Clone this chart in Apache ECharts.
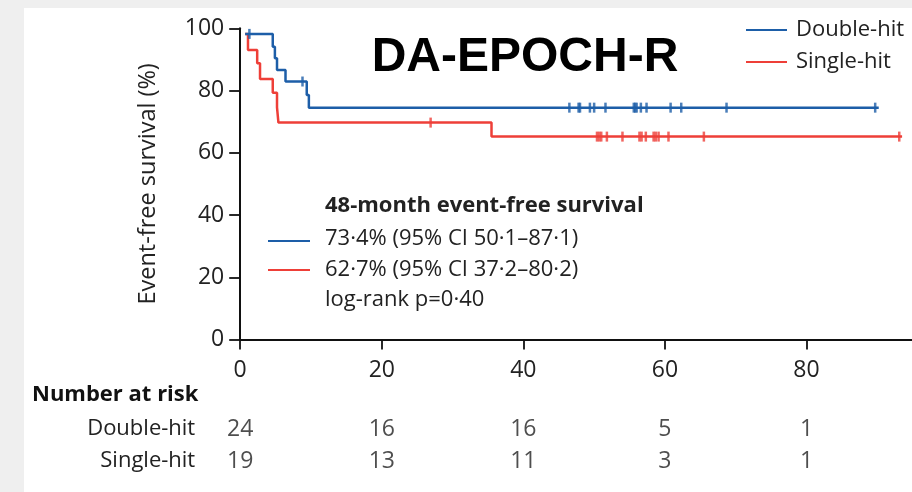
<!DOCTYPE html>
<html>
<head>
<meta charset="utf-8">
<script src="https://cdn.jsdelivr.net/npm/echarts@6/dist/echarts.min.js"></script>
<style>
html,body{margin:0;padding:0;background:#efefef;}
#c{width:912px;height:492px;}
</style>
</head>
<body>
<div id="c"></div>
<script>
// ---- data ----
const groups = ['Double-hit', 'Single-hit'];
const blueTimes = [0.7, 4.6, 4.9, 5.2, 6.4, 9.4, 9.7, 90.2];
const blueSurv  = [98.2, 94.1, 90.4, 86.6, 82.9, 78.6, 74.5, 74.5];
const redTimes  = [0.7, 1.1, 2.4, 2.8, 4.6, 5.2, 5.4, 35.5, 93.5];
const redSurv   = [98.2, 93.0, 88.8, 83.7, 79.3, 74.6, 69.7, 65.2, 65.2];
const blueCensor = [1.3, 8.8, 46.5, 47.8, 48.0, 49.4, 50.0, 51.6, 55.6, 55.8, 56.0, 56.6, 57.4, 60.8, 62.3, 68.7, 89.7];
const redCensor  = [26.9, 50.4, 50.7, 51.0, 51.8, 54.0, 56.4, 56.7, 57.3, 58.4, 58.7, 59.1, 60.5, 65.5, 93.1];
const xTicks = [0, 20, 40, 60, 80];
const riskTimes = [0, 20, 40, 60, 80];
const riskDouble = [24, 16, 16, 5, 1];
const riskSingle = [19, 13, 11, 3, 1];
const summaryTitle = '48-month event-free survival';
const summaryLines = ['73·4% (95% CI 50·1–87·1)', '62·7% (95% CI 37·2–80·2)', 'log-rank p=0·40'];

const BLUE = '#1d5ea8', RED = '#ee3f38', TXT = '#222';
const FONT = '"Open Sans", "Noto Sans", sans-serif';

function stepValue(times, surv, t) {
  let v = surv[0];
  for (let i = 0; i < times.length; i++) { if (times[i] <= t) v = surv[i]; }
  return v;
}
const zip = (a, b) => a.map((v, i) => [v, b[i]]);

const chart = echarts.init(document.getElementById('c'));
const XMAX = 94.9;
chart.setOption({
  backgroundColor: '#efefef',
  animation: false,
  textStyle: { fontFamily: FONT },
  grid: [
    { left: 240.2, right: 0, top: 28.3, height: 311.2 },
    { left: 240.2, right: 0, top: 413, height: 64 }
  ],
  xAxis: [
    {
      gridIndex: 0, type: 'value', min: 0, max: XMAX, interval: 20,
      splitLine: { show: false },
      axisLine: { lineStyle: { color: '#111', width: 2 } },
      axisTick: { length: 10, customValues: xTicks, lineStyle: { color: '#111', width: 1.8 } },
      axisLabel: { margin: 19, fontSize: 23, color: TXT, fontFamily: FONT, customValues: xTicks,
        formatter: v => (xTicks.indexOf(v) >= 0 ? String(v) : '') }
    },
    { gridIndex: 1, type: 'value', min: 0, max: XMAX, show: false }
  ],
  yAxis: [
    {
      gridIndex: 0, type: 'value', min: 0, max: 100, interval: 20,
      name: 'Event-free survival (%)', nameLocation: 'middle', nameGap: 80,
      nameTextStyle: { fontSize: 23.5, color: TXT, fontFamily: FONT },
      splitLine: { show: false },
      axisLine: { lineStyle: { color: '#111', width: 2 } },
      axisTick: { length: 11, lineStyle: { color: '#111', width: 1.8 } },
      axisLabel: { margin: 16, fontSize: 23, color: TXT, fontFamily: FONT }
    },
    {
      gridIndex: 1, type: 'category', data: groups, inverse: true,
      axisLine: { show: false }, axisTick: { show: false },
      axisLabel: { margin: 45, fontSize: 22, color: TXT, fontFamily: FONT }
    }
  ],
  legend: {
    orient: 'vertical', left: 741, top: 14, itemGap: 10,
    itemWidth: 41, itemHeight: 2, icon: 'rect',
    data: ['Double-hit', 'Single-hit'],
    textStyle: { fontSize: 22, color: TXT, fontFamily: FONT, padding: [0, 0, 0, 4] }
  },
  series: [
    { name: 'Double-hit', type: 'line', step: 'end', xAxisIndex: 0, yAxisIndex: 0,
      showSymbol: false, color: BLUE, lineStyle: { width: 2.5, color: BLUE },
      data: zip(blueTimes, blueSurv), z: 3 },
    { name: 'Single-hit', type: 'line', step: 'end', xAxisIndex: 0, yAxisIndex: 0,
      showSymbol: false, color: RED, lineStyle: { width: 2.5, color: RED },
      data: zip(redTimes, redSurv), z: 2 },
    { name: 'Double-hit censored', type: 'scatter', xAxisIndex: 0, yAxisIndex: 0,
      symbol: 'rect', symbolSize: [2.5, 10], itemStyle: { color: BLUE }, z: 4,
      data: blueCensor.map(t => [t, stepValue(blueTimes, blueSurv, t)]) },
    { name: 'Single-hit censored', type: 'scatter', xAxisIndex: 0, yAxisIndex: 0,
      symbol: 'rect', symbolSize: [2.5, 10], itemStyle: { color: RED }, z: 4,
      data: redCensor.map(t => [t, stepValue(redTimes, redSurv, t)]) },
    { name: 'risk', type: 'scatter', xAxisIndex: 1, yAxisIndex: 1,
      symbolSize: 1, itemStyle: { color: 'rgba(0,0,0,0)' },
      label: { show: true, position: 'inside', fontSize: 23, color: TXT, fontFamily: FONT,
        formatter: p => String(p.value[2]) },
      data: riskTimes.map((t, i) => [t, groups[0], riskDouble[i]])
        .concat(riskTimes.map((t, i) => [t, groups[1], riskSingle[i]])) }
  ],
  graphic: [
    { type: 'rect', z: -100, silent: true, shape: { x: 24, y: 8, width: 888, height: 484 }, style: { fill: '#fff' } },
    { type: 'text', z: 10, style: {
        text: 'DA-EPOCH-R', x: 525, y: 58, align: 'center', verticalAlign: 'middle',
        font: 'bold 48px "Liberation Sans", Arial, sans-serif', fill: '#000' } },
    { type: 'text', z: 10, style: { text: summaryTitle, x: 325, y: 206, verticalAlign: 'middle',
        font: 'bold 22px ' + FONT, fill: TXT } },
    { type: 'line', z: 10, shape: { x1: 268, y1: 241, x2: 310, y2: 241 }, style: { stroke: BLUE, lineWidth: 2 } },
    { type: 'text', z: 10, style: { text: summaryLines[0], x: 325, y: 239, verticalAlign: 'middle',
        font: '22px ' + FONT, fill: TXT } },
    { type: 'line', z: 10, shape: { x1: 268, y1: 270, x2: 310, y2: 270 }, style: { stroke: RED, lineWidth: 2 } },
    { type: 'text', z: 10, style: { text: summaryLines[1], x: 325, y: 270, verticalAlign: 'middle',
        font: '22px ' + FONT, fill: TXT } },
    { type: 'text', z: 10, style: { text: summaryLines[2], x: 325, y: 300, verticalAlign: 'middle',
        font: '22px ' + FONT, fill: TXT } },
    { type: 'text', z: 10, style: { text: 'Number at risk', x: 32, y: 395, verticalAlign: 'middle',
        font: 'bold 22px ' + FONT, fill: '#111' } }
  ]
});
</script>
</body>
</html>
